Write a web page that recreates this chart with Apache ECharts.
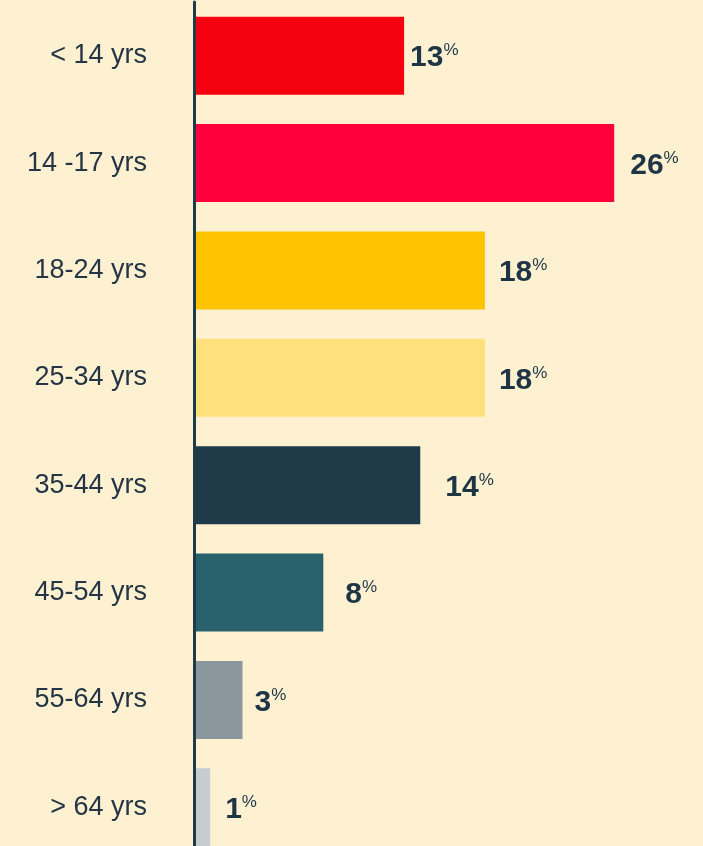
<!DOCTYPE html>
<html>
<head>
<meta charset="utf-8">
<script src="https://cdn.jsdelivr.net/npm/echarts@6/dist/echarts.min.js"></script>
<style>
  html, body { margin: 0; padding: 0; background: #FEF1D2; }
  #chart { width: 703px; height: 846px; }
</style>
</head>
<body>
<div id="chart"></div>
<script>
// age groups and share of respondents (%)
const ageGroups = ['< 14 yrs', '14 -17 yrs', '18-24 yrs', '25-34 yrs', '35-44 yrs', '45-54 yrs', '55-64 yrs', '> 64 yrs'];
const shares = [13, 26, 18, 18, 14, 8, 3, 1];

const barColors = ['#F5000F', '#FF003C', '#FFC400', '#FFE07A', '#1F3A48', '#28606B', '#8A989D', '#C5CDD0'];
const labelGap = [6, 16, 14, 14, 25, 22, 12, 15];

const chart = echarts.init(document.getElementById('chart'));

const option = {
    backgroundColor: '#FEF1D2',
    animation: false,
    grid: {
        left: 194,
        right: 8,
        top: 2,
        height: 859,
        outerBoundsMode: 'none',
        containLabel: false
    },
    xAxis: {
        type: 'value',
        min: 0,
        max: 31,
        show: false
    },
    yAxis: {
        type: 'category',
        data: ageGroups,
        inverse: true,
        z: 5,
        axisLine: {
            show: true,
            lineStyle: { color: '#1F3A48', width: 3 }
        },
        axisTick: { show: false },
        axisLabel: {
            margin: 47,
            color: '#253545',
            fontFamily: 'Liberation Sans',
            fontSize: 27,
            padding: [6, 0, 0, 0]
        }
    },
    series: [
        {
            type: 'bar',
            barWidth: 78,
            data: shares.map((v, i) => ({
                value: v,
                itemStyle: { color: barColors[i] },
                label: { distance: labelGap[i] }
            })),
            label: {
                show: true,
                position: 'right',
                padding: [5, 0, 0, 0],
                formatter: p => '{v|' + p.value + '}{p|%}',
                rich: {
                    v: {
                        fontFamily: 'Liberation Sans',
                        fontWeight: 'bold',
                        fontSize: 30,
                        color: '#1F3546',
                        lineHeight: 32
                    },
                    p: {
                        fontFamily: 'Liberation Sans',
                        fontSize: 17,
                        color: '#1F3546',
                        verticalAlign: 'top',
                        lineHeight: 18
                    }
                }
            }
        }
    ]
};

chart.setOption(option);
</script>
</body>
</html>
